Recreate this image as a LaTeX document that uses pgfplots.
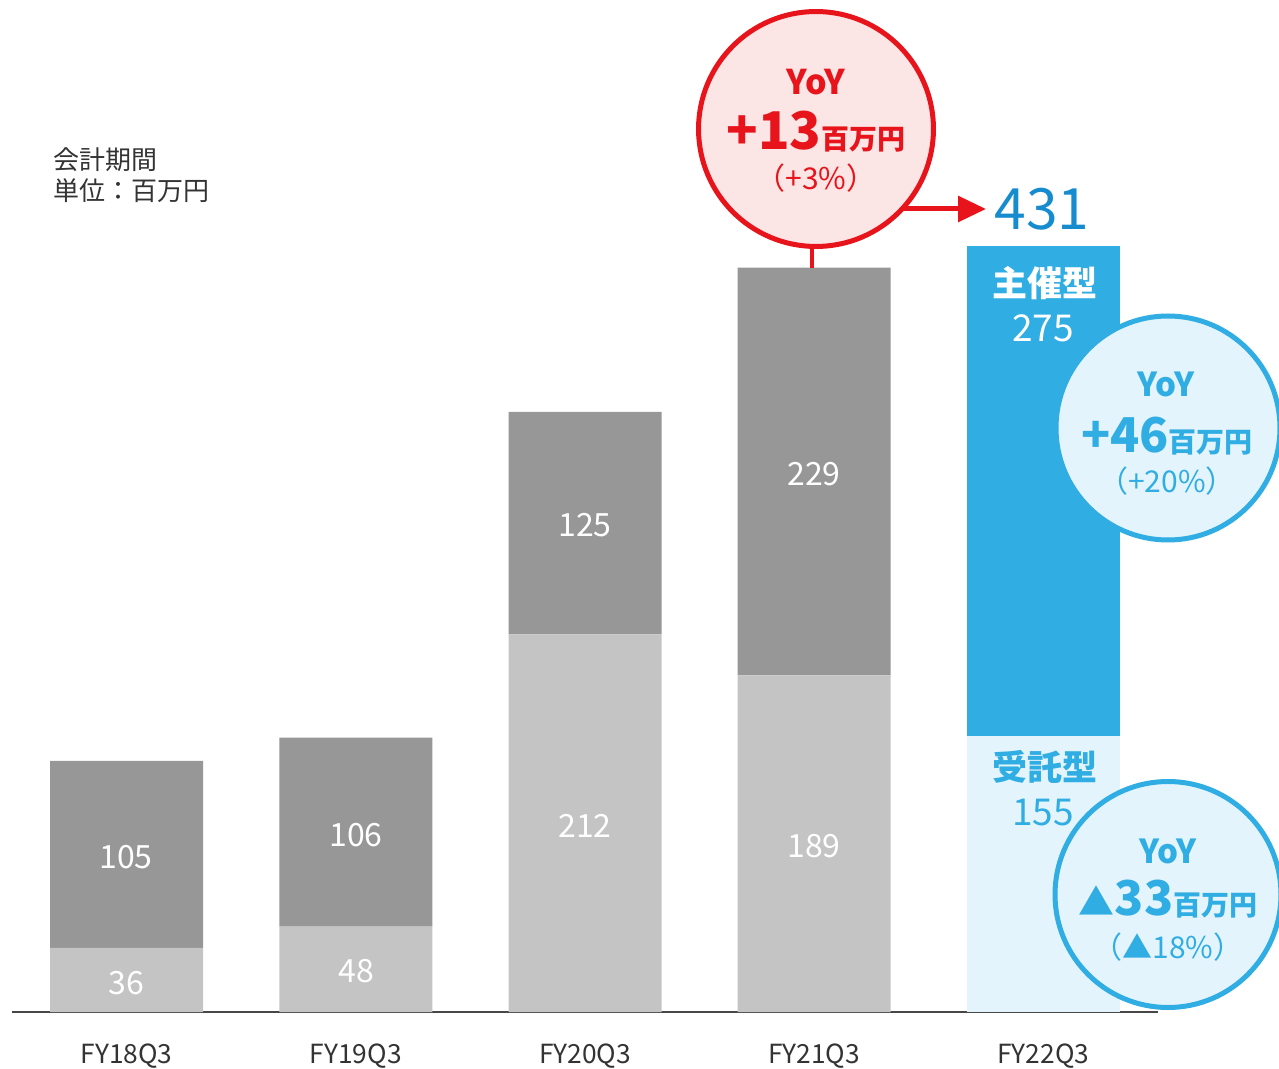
\documentclass[border=0pt]{standalone}
\usepackage{pgfplots}
\pgfplotsset{compat=1.18}
\usepackage{fontspec}
\setmainfont{Noto Sans CJK JP}
\usetikzlibrary{arrows.meta}
\definecolor{gdark}{HTML}{979797}
\definecolor{glight}{HTML}{C4C4C4}
\definecolor{bdark}{HTML}{30ADE2}
\definecolor{blight}{HTML}{E4F4FC}
\definecolor{rline}{HTML}{E8141B}
\definecolor{rfill}{HTML}{FCE5E5}
\definecolor{bnum}{HTML}{168CCF}
\definecolor{txt}{HTML}{333333}
\newcommand{\fs}[1]{\fontsize{#1pt}{#1pt}\selectfont}
\tikzset{barlab/.style={font=\fs{24}, text=white}}
\begin{document}
\begin{tikzpicture}
\useasboundingbox (0,0) rectangle (959.25pt,-801.75pt);
\begin{axis}[
  at={(9pt,-759pt)}, anchor=south west,
  scale only axis, width=859.5pt, height=759pt,
  xmin=-0.5, xmax=4.5, ymin=0, ymax=568.2,
  ybar stacked, bar width=114.75pt,
  axis x line=bottom, axis y line=none,
  x axis line style={-, draw=black!72, line width=1.5pt},
  xtick={0,1,2,3,4}, xticklabels={FY18Q3,FY19Q3,FY20Q3,FY21Q3,FY22Q3},
  major tick length=0pt,
  xticklabel style={font=\fs{19.75}, text=txt, anchor=base, yshift=-38.25pt},
  clip=false,
]
\addplot[fill=glight, draw=none] coordinates {(0,36) (1,48) (2,212) (3,189) (4,0)};
\addplot[fill=gdark, draw=none] coordinates {(0,105) (1,106) (2,125) (3,229) (4,0)};
\addplot[fill=blight, draw=none] coordinates {(0,0) (1,0) (2,0) (3,0) (4,155)};
\addplot[fill=bdark, draw=none] coordinates {(0,0) (1,0) (2,0) (3,0) (4,275)};
\end{axis}
\begin{scope}[x=0.75pt,y=-0.75pt]
% bar value labels
\node[barlab] at (126,983) {36};
\node[barlab] at (126,857) {105};
\node[barlab] at (356,971.5) {48};
\node[barlab] at (356,835) {106};
\node[barlab] at (585,826) {212};
\node[barlab] at (585,525.5) {125};
\node[barlab] at (814,846.5) {189};
\node[barlab] at (814,474) {229};
% unit note
\node[anchor=base west, font=\fs{19.5}, text=txt, inner sep=0] at (53,170) {会計期間};
\node[anchor=base west, font=\fs{19.5}, text=txt, inner sep=0] at (53,201) {単位：百万円};
% FY22 labels
\node[anchor=base, font=\fs{26.25}\bfseries, text=white, inner sep=0] at (1045,297) {主催型};
\node[anchor=base, font=\fs{27.75}, text=white, inner sep=0] at (1043,342) {275};
\node[anchor=base, font=\fs{26.25}\bfseries, text=bdark, inner sep=0] at (1045,780) {受託型};
\node[anchor=base, font=\fs{27.75}, text=bdark, inner sep=0] at (1043,825) {155};
\node[anchor=base, font=\fs{42.75}, text=bnum, inner sep=0] at (1042,230) {431};
% red annotation
\draw[rline, line width=3pt] (812,240) -- (812,268);
\draw[rline, line width=3.75pt, -{Triangle[length=21pt,width=19pt]}] (880,209) -- (986,209);
\draw[rline, line width=3.75pt, fill=rfill] (816,129) circle[radius=88.1pt];
\node[anchor=base, font=\fs{25.5}\bfseries, text=rline, inner sep=0] at (816,95) {YoY};
\node[anchor=base, text=rline, inner sep=0] at (816,150) {\bfseries\fs{39}+13\fs{21}百万円};
\node[anchor=base, font=\fs{22.5}, text=rline, inner sep=0] at (816,190) {（+3\%）};
% blue annotation 1
\draw[bdark, line width=3.75pt, fill=blight] (1168,428) circle[radius=84pt];
\node[anchor=base, font=\fs{24.75}\bfseries, text=bdark, inner sep=0] at (1166,397) {YoY};
\node[anchor=base, text=bdark, inner sep=0] at (1167,453) {\bfseries\fs{36}+46\fs{21}百万円};
\node[anchor=base, font=\fs{22.5}, text=bdark, inner sep=0] at (1167,493) {（+20\%）};
% blue annotation 2
\draw[bdark, line width=3.75pt, fill=blight] (1168,894.5) circle[radius=84.75pt];
\node[anchor=base, font=\fs{24.75}\bfseries, text=bdark, inner sep=0] at (1168,863) {YoY};
\node[anchor=base, text=bdark, inner sep=0] at (1168,915) {\bfseries\fs{27}▲\fs{36}33\fs{21}百万円};
\node[anchor=base, font=\fs{22.5}, text=bdark, inner sep=0] at (1168,958) {（▲18\%）};
\end{scope}
\end{tikzpicture}
\end{document}
